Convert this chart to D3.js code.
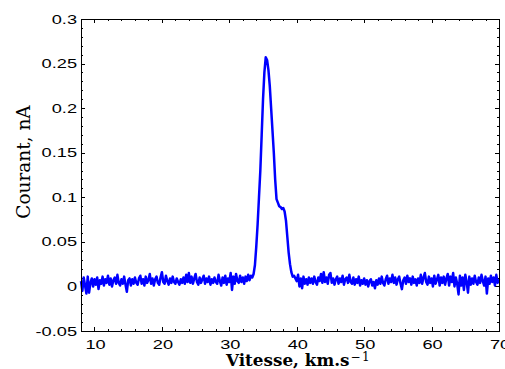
<!DOCTYPE html>
<html><head><meta charset="utf-8">
<script src="https://cdn.jsdelivr.net/npm/d3@7"></script>
<style>html,body{margin:0;padding:0;background:#fff;}svg{display:block;}</style>
</head><body>
<svg id="chart" width="505" height="369"></svg>
<script>
// x sample grid: 8.0 .. 70.0 step 0.2 (311 samples)
const xStart = 8, xStep = 0.2;
const current = [
 0.006,-0.005,0.010,0.001,-0.008,0.011,-0.007,0.004,0.009,0.000,
 0.008,0.002,0.010,-0.003,0.007,0.003,0.011,0.001,0.008,0.004,
 0.012,0.002,0.009,0.000,0.007,0.010,0.003,0.013,0.004,0.001,
 0.008,0.003,0.011,0.002,-0.006,0.007,0.009,0.001,0.008,0.003,
 0.010,0.004,0.002,0.009,0.012,0.003,0.008,0.001,0.011,0.004,
 0.007,0.014,0.003,0.009,0.001,0.008,0.011,0.004,0.002,0.010,
 0.016,0.005,0.003,0.012,0.006,0.002,0.009,0.004,0.011,0.005,
 0.003,0.009,0.005,0.002,0.008,0.004,0.010,0.003,0.013,0.005,
 0.015,0.004,0.011,0.003,0.009,0.014,0.005,0.002,0.010,0.004,
 0.008,0.012,0.003,0.009,0.005,0.011,0.002,0.008,0.004,0.010,
 0.005,0.003,0.013,0.006,0.001,0.010,0.004,0.012,0.002,0.009,
 0.005,0.015,-0.004,0.011,0.003,0.014,0.006,0.004,0.012,0.005,
 0.010,0.003,0.011,0.006,0.013,0.007,0.012,0.010,0.014,0.024,
 0.045,0.070,0.100,0.130,0.170,0.210,0.240,0.257,0.254,0.243,
 0.225,0.200,0.175,0.150,0.120,0.098,0.094,0.090,0.089,0.087,
 0.088,0.084,0.074,0.056,0.038,0.025,0.016,0.011,0.012,0.009,
 0.006,0.013,0.000,0.009,-0.002,0.011,0.003,0.008,0.002,0.010,
 0.004,0.009,0.003,0.011,0.005,0.002,0.010,0.006,0.014,0.004,
 0.016,0.005,0.010,0.003,0.013,0.015,0.004,0.009,0.002,0.008,
 0.011,0.003,0.009,0.005,0.012,0.002,0.008,0.010,0.004,0.013,
 0.005,0.003,0.010,0.002,0.008,0.004,0.011,0.001,0.007,0.003,
 0.009,0.002,0.007,0.000,0.006,0.008,0.001,0.005,-0.002,0.007,
 0.002,0.009,0.003,0.011,0.004,0.001,0.008,0.012,0.003,0.009,
 0.005,0.013,0.004,0.010,0.002,0.008,0.011,0.003,-0.003,0.007,
 0.010,0.003,0.012,0.005,0.009,0.002,0.011,0.004,0.008,0.001,
 0.009,0.004,0.013,0.003,0.010,0.015,0.005,0.002,0.011,0.004,
 0.009,0.000,0.012,0.003,0.008,0.013,0.001,0.010,0.004,0.011,
 0.002,0.009,0.014,0.001,0.011,0.005,0.015,0.000,0.010,0.003,
 -0.009,0.012,0.001,0.010,-0.004,0.013,0.005,-0.007,0.011,0.002,
 0.009,0.003,0.012,0.005,0.002,0.010,0.004,0.013,0.006,0.001,
 0.011,-0.008,0.009,0.003,0.012,0.005,0.010,0.001,0.013,0.004,0.008
];
const xTicks = [10,20,30,40,50,60,70];
const xTickLabels = ["10","20","30","40","50","60","70"];
const yTicks = [-0.05,0,0.05,0.1,0.15,0.2,0.25,0.3];
const yTickLabels = ["-0.05","0","0.05","0.1","0.15","0.2","0.25","0.3"];
const xMinorStep = 2, yMinorStep = 0.01;
const xDomain = [8,70], yDomain = [-0.05,0.3];

const data = current.map((v,i)=>({x: xStart + i*xStep, y: v}));

const svg = d3.select("#chart");
const L=81, R=499, T=19, B=331;
const x = d3.scaleLinear().domain(xDomain).range([L,R]);
const y = d3.scaleLinear().domain(yDomain).range([B,T]);

svg.append("rect").attr("width",505).attr("height",369).attr("fill","#fff");

const xMinor = d3.range(xDomain[0], xDomain[1]+1e-9, xMinorStep).filter(v=>!xTicks.some(t=>Math.abs(t-v)<1e-9));
const yMinor = d3.range(0, 36).map(k=>-0.05+k*yMinorStep).filter(v=>!yTicks.some(t=>Math.abs(t-v)<1e-9));

// ticks inside, all sides
const tg = svg.append("g").attr("stroke","#000").attr("stroke-width",1).attr("shape-rendering","crispEdges");
function vt(v,len){ const px=Math.round(x(v))+0.5;
  tg.append("line").attr("x1",px).attr("x2",px).attr("y1",B).attr("y2",B-len);
  tg.append("line").attr("x1",px).attr("x2",px).attr("y1",T).attr("y2",T+len); }
function ht(v,len){ const py=Math.round(y(v))+0.5;
  tg.append("line").attr("y1",py).attr("y2",py).attr("x1",L).attr("x2",L+len);
  tg.append("line").attr("y1",py).attr("y2",py).attr("x1",R).attr("x2",R-len); }
xTicks.forEach(v=>vt(v,4)); xMinor.forEach(v=>vt(v,2));
yTicks.forEach(v=>ht(v,4)); yMinor.forEach(v=>ht(v,2));

// line
svg.append("path").datum(data)
  .attr("fill","none").attr("stroke","#0000ff").attr("stroke-width",2.5)
  .attr("stroke-linejoin","round")
  .attr("d", d3.line().x(d=>x(d.x)).y(d=>y(d.y)));

// frame
svg.append("rect").attr("x",L+0.5).attr("y",T+0.5).attr("width",R-L).attr("height",B-T)
  .attr("fill","none").attr("stroke","#000").attr("stroke-width",1.2).attr("shape-rendering","crispEdges");

// tick labels (horizontally stretched like the reference)
const lf = "'Liberation Sans', Arial, sans-serif";
svg.append("g").selectAll("text").data(xTicks).join("text")
  .attr("transform",d=>`translate(${x(d)+1},348.5) scale(1.4,1)`).attr("text-anchor","middle")
  .attr("font-family",lf).attr("font-size",13).attr("fill","#000")
  .text((d,i)=>xTickLabels[i]);
svg.append("g").selectAll("text").data(yTicks).join("text")
  .attr("transform",d=>`translate(77,${y(d)+4.6}) scale(1.4,1)`).attr("text-anchor","end")
  .attr("font-family",lf).attr("font-size",13).attr("fill","#000")
  .text((d,i)=>yTickLabels[i]);

// axis titles
const xt = svg.append("text").attr("x",226).attr("y",365.5)
  .attr("font-family","'DejaVu Serif', serif").attr("font-weight","bold").attr("font-size",16.8).attr("fill","#000");
xt.append("tspan").text("Vitesse, km.s");
xt.append("tspan").attr("dy",-5).attr("dx",1).attr("font-size",12).attr("font-weight","normal").attr("letter-spacing",1.5).text("\u22121");

svg.append("text").attr("transform","translate(30,162) rotate(-90)").attr("text-anchor","middle")
  .attr("font-family","'DejaVu Serif', serif").attr("font-size",18.5).attr("fill","#000")
  .text("Courant, nA");
</script>
</body></html>
